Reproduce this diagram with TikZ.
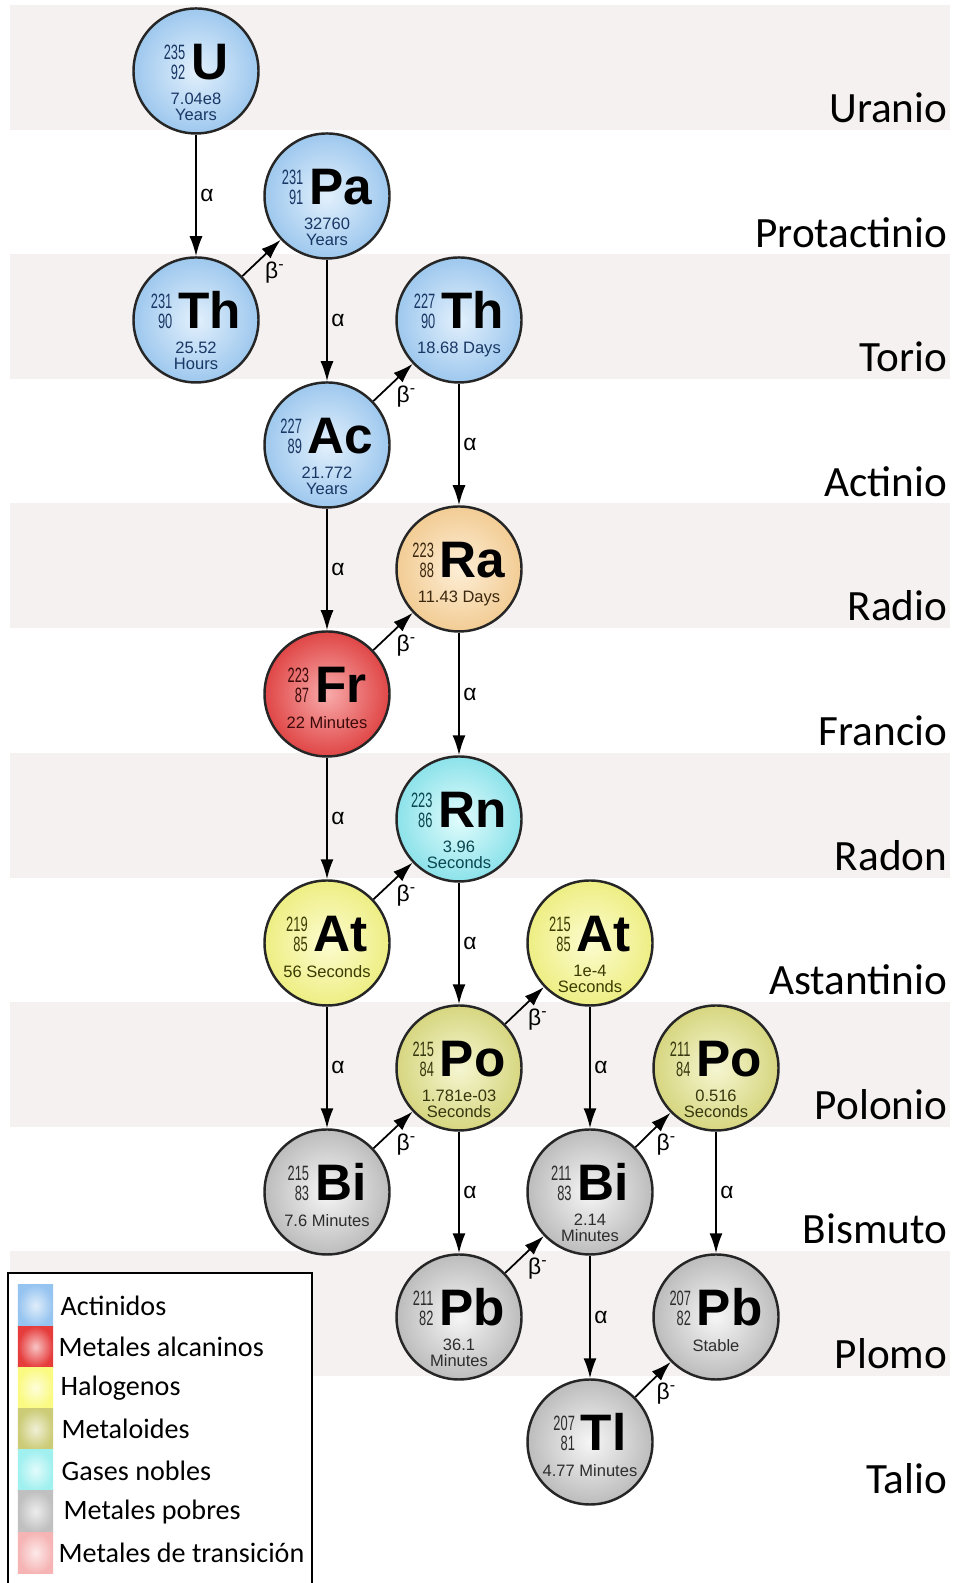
\documentclass[tikz,border=0pt]{standalone}
\usepackage{fontspec}
\setmainfont{Liberation Sans}
\newfontfamily\calib{Carlito}
\usepackage{graphicx}
\usetikzlibrary{arrows.meta}

\definecolor{band}{RGB}{246,241,241}
\definecolor{actin}{RGB}{226,240,252}
\definecolor{actout}{RGB}{158,200,238}
\definecolor{actdark}{RGB}{25,55,100}
\definecolor{earthin}{RGB}{253,238,214}
\definecolor{earthout}{RGB}{242,204,148}
\definecolor{earthdark}{RGB}{60,40,15}
\definecolor{alkin}{RGB}{248,170,170}
\definecolor{alkout}{RGB}{224,70,70}
\definecolor{alkdark}{RGB}{60,10,10}
\definecolor{noblein}{RGB}{225,252,252}
\definecolor{nobleout}{RGB}{140,226,234}
\definecolor{nobledark}{RGB}{10,70,80}
\definecolor{haloin}{RGB}{252,252,208}
\definecolor{haloout}{RGB}{238,238,132}
\definecolor{halodark}{RGB}{60,60,0}
\definecolor{metdin}{RGB}{246,246,210}
\definecolor{metdout}{RGB}{214,214,128}
\definecolor{metddark}{RGB}{55,55,15}
\definecolor{poorin}{RGB}{246,246,246}
\definecolor{poorout}{RGB}{188,188,188}
\definecolor{poordark}{RGB}{45,45,45}
\definecolor{lgact}{RGB}{150,196,240}
\definecolor{lgalk}{RGB}{230,60,60}
\definecolor{lghal}{RGB}{250,250,130}
\definecolor{lgmet}{RGB}{204,204,120}
\definecolor{lggas}{RGB}{160,240,240}
\definecolor{lgpoo}{RGB}{192,192,192}
\definecolor{lgtra}{RGB}{246,180,180}

\newcommand{\symfont}{\color{black}\bfseries\fontsize{14.6}{15}\selectfont}
\newcommand{\numst}[2]{{\fontsize{5.9}{5.6}\selectfont\scalebox{0.62}[1]{\begin{tabular}[b]{@{}r@{}}#1\\#2\end{tabular}}}}
\newcommand{\iso}[3]{\numst{#1}{#2}\hspace{0.6mm}{\symfont #3}}

\tikzset{
  nuclide/.style={circle, draw=black!85, line width=0.7pt, minimum size=1.25cm, inner sep=0pt,
    text height=0.30cm, text depth=0.12cm},
  lifetext/.style={yshift=0.42cm, inner sep=0pt, align=center, font=\fontsize{4.7}{4.5}\selectfont},
  nuc/.style={nuclide, inner color=#1in, outer color=#1out, text=#1dark,
    life/.style={label={[lifetext, text=#1dark]below:{##1}}}},
  decay/.style={-{Latex[length=2mm,width=1.3mm]}, line width=0.5pt},
  alab/.style={right, inner sep=1pt, font=\fontsize{6.5}{7}\selectfont},
  blab/.style={anchor=north west, inner sep=0.8pt, font=\fontsize{6.5}{7}\selectfont},
  rowlab/.style={anchor=base east, inner sep=0pt, font=\calib\fontsize{12.3}{14}\selectfont},
  swatch/.style={rectangle, minimum width=0.35cm, minimum height=0.412cm, inner sep=0pt, inner color=white!70!#1, outer color=#1},
  legtext/.style={anchor=west, inner sep=0pt, font=\calib\fontsize{8}{9}\selectfont}
}

\begin{document}
\begin{tikzpicture}
  \useasboundingbox (0,0) rectangle (9.63,15.83);
  % bands
  \fill[band] (0.10,14.53) rectangle (9.50,15.78);
  \fill[band] (0.10,12.04) rectangle (9.50,13.29);
  \fill[band] (0.10,9.55) rectangle (9.50,10.80);
  \fill[band] (0.10,7.05) rectangle (9.50,8.30);
  \fill[band] (0.10,4.56) rectangle (9.50,5.81);
  \fill[band] (0.10,2.07) rectangle (9.50,3.32);

  % row names
  \node[rowlab] (lU) at (9.48,14.60) {Uranio};
  \node[rowlab] (lPa) at (9.48,13.35) {Protactinio};
  \node[rowlab] (lTh) at (9.48,12.11) {Torio};
  \node[rowlab] (lAc) at (9.48,10.86) {Actinio};
  \node[rowlab] (lRa) at (9.48,9.62) {Radio};
  \node[rowlab] (lFr) at (9.48,8.37) {Francio};
  \node[rowlab] (lRn) at (9.48,7.12) {Radon};
  \node[rowlab] (lAt) at (9.48,5.88) {Astantinio};
  \node[rowlab] (lPo) at (9.48,4.63) {Polonio};
  \node[rowlab] (lBi) at (9.48,3.39) {Bismuto};
  \node[rowlab] (lPb) at (9.48,2.14) {Plomo};
  \node[rowlab] (lTl) at (9.48,0.89) {Talio};

  % nuclides
  \node[nuc=act, life={7.04e8\\Years}] (U235) at (1.96,15.12) {\iso{235}{92}{U}};
  \node[nuc=act, life={32760\\Years}] (Pa231) at (3.27,13.87) {\iso{231}{91}{Pa}};
  \node[nuc=act, life={25.52\\Hours}] (Th231) at (1.96,12.63) {\iso{231}{90}{Th}};
  \node[nuc=act, life={18.68 Days}] (Th227) at (4.59,12.63) {\iso{227}{90}{Th}};
  \node[nuc=act, life={21.772\\Years}] (Ac227) at (3.27,11.38) {\iso{227}{89}{Ac}};
  \node[nuc=earth, life={11.43 Days}] (Ra223) at (4.59,10.14) {\iso{223}{88}{Ra}};
  \node[nuc=alk, life={22 Minutes}] (Fr223) at (3.27,8.89) {\iso{223}{87}{Fr}};
  \node[nuc=noble, life={3.96\\Seconds}] (Rn223) at (4.59,7.64) {\iso{223}{86}{Rn}};
  \node[nuc=halo, life={56 Seconds}] (At219) at (3.27,6.40) {\iso{219}{85}{At}};
  \node[nuc=halo, life={1e-4\\Seconds}] (At215) at (5.90,6.40) {\iso{215}{85}{At}};
  \node[nuc=metd, life={1.781e-03\\Seconds}] (Po215) at (4.59,5.15) {\iso{215}{84}{Po}};
  \node[nuc=metd, life={0.516\\Seconds}] (Po211) at (7.16,5.15) {\iso{211}{84}{Po}};
  \node[nuc=poor, life={7.6 Minutes}] (Bi215) at (3.27,3.91) {\iso{215}{83}{Bi}};
  \node[nuc=poor, life={2.14\\Minutes}] (Bi211) at (5.90,3.91) {\iso{211}{83}{Bi}};
  \node[nuc=poor, life={36.1\\Minutes}] (Pb211) at (4.59,2.66) {\iso{211}{82}{Pb}};
  \node[nuc=poor, life={Stable}] (Pb207) at (7.16,2.66) {\iso{207}{82}{Pb}};
  \node[nuc=poor, life={4.77 Minutes}] (Tl207) at (5.90,1.41) {\iso{207}{81}{Tl}};

  % alpha decays
  \draw[decay] (U235) -- node[alab] {α} (Th231);
  \draw[decay] (Pa231) -- node[alab] {α} (Ac227);
  \draw[decay] (Th227) -- node[alab] {α} (Ra223);
  \draw[decay] (Ac227) -- node[alab] {α} (Fr223);
  \draw[decay] (Ra223) -- node[alab] {α} (Rn223);
  \draw[decay] (Fr223) -- node[alab] {α} (At219);
  \draw[decay] (Rn223) -- node[alab] {α} (Po215);
  \draw[decay] (At219) -- node[alab] {α} (Bi215);
  \draw[decay] (At215) -- node[alab] {α} (Bi211);
  \draw[decay] (Po215) -- node[alab] {α} (Pb211);
  \draw[decay] (Po211) -- node[alab] {α} (Pb207);
  \draw[decay] (Bi211) -- node[alab] {α} (Tl207);

  % beta decays
  \draw[decay] (Th231) -- node[blab] {β\textsuperscript{-}} (Pa231);
  \draw[decay] (Ac227) -- node[blab] {β\textsuperscript{-}} (Th227);
  \draw[decay] (Fr223) -- node[blab] {β\textsuperscript{-}} (Ra223);
  \draw[decay] (At219) -- node[blab] {β\textsuperscript{-}} (Rn223);
  \draw[decay] (Po215) -- node[blab] {β\textsuperscript{-}} (At215);
  \draw[decay] (Bi215) -- node[blab] {β\textsuperscript{-}} (Po215);
  \draw[decay] (Pb211) -- node[blab] {β\textsuperscript{-}} (Bi211);
  \draw[decay] (Bi211) -- node[blab] {β\textsuperscript{-}} (Po211);
  \draw[decay] (Tl207) -- node[blab] {β\textsuperscript{-}} (Pb207);

  % legend
  \draw[line width=0.8pt, fill=white] (0.08,-0.2) rectangle (3.12,3.10);
  \node[swatch=lgact] (sAct) at (0.355,2.774) {};
  \node[swatch=lgalk] (sAlk) at (0.355,2.362) {};
  \node[swatch=lghal] (sHal) at (0.355,1.950) {};
  \node[swatch=lgmet] (sMet) at (0.355,1.538) {};
  \node[swatch=lggas] (sGas) at (0.355,1.126) {};
  \node[swatch=lgpoo] (sPoo) at (0.355,0.714) {};
  \node[swatch=lgtra] (sTra) at (0.355,0.302) {};
  \node[legtext] (tAct) at (0.60,2.774) {Actinidos};
  \node[legtext] (tAlk) at (0.58,2.362) {Metales alcaninos};
  \node[legtext] (tHal) at (0.60,1.950) {Halogenos};
  \node[legtext] (tMet) at (0.61,1.538) {Metaloides};
  \node[legtext] (tGas) at (0.61,1.126) {Gases nobles};
  \node[legtext] (tPoo) at (0.63,0.714) {Metales pobres};
  \node[legtext] (tTra) at (0.58,0.302) {Metales de transición};
\end{tikzpicture}
\end{document}
